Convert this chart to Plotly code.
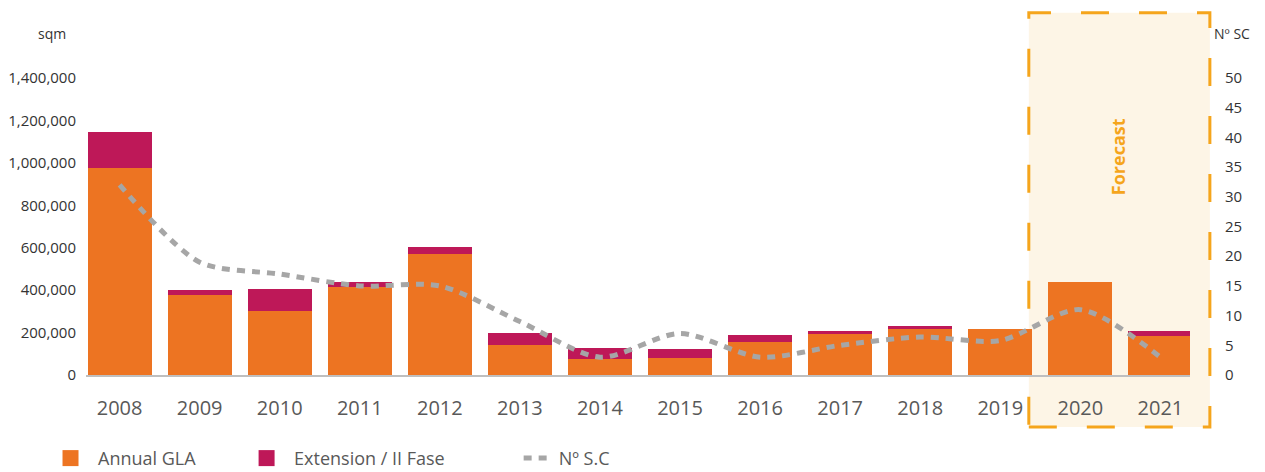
import plotly.graph_objects as go
from plotly.subplots import make_subplots

years = ["2008", "2009", "2010", "2011", "2012", "2013", "2014",
         "2015", "2016", "2017", "2018", "2019", "2020", "2021"]
annual_gla = [975000, 377000, 302000, 415000, 570000, 141000, 75000,
              80000, 156000, 193000, 217000, 217000, 438000, 184000]
extension = [170000, 23000, 103000, 23000, 33000, 57000, 52000,
             43000, 33000, 14000, 14000, 0, 0, 23000]
n_sc = [32, 19, 17, 15, 15, 9, 3, 7, 3, 5, 6.4, 5.8, 11, 3]

left_ticks = [0, 200000, 400000, 600000, 800000, 1000000, 1200000, 1400000]
right_ticks = [0, 5, 10, 15, 20, 25, 30, 35, 40, 45, 50]

ORANGE = "#ED7422"
MAGENTA = "#BE1858"
GRAY = "#A6A6A6"
FC = "#F5A51C"
FONT = "Open Sans"

fig = make_subplots(specs=[[{"secondary_y": True}]])

fig.add_trace(go.Bar(x=years, y=annual_gla, name="Annual GLA",
                     marker=dict(color=ORANGE, line=dict(width=0)),
                     showlegend=False), secondary_y=False)
fig.add_trace(go.Bar(x=years, y=extension, name="Extension / II Fase",
                     marker=dict(color=MAGENTA, line=dict(width=0)),
                     showlegend=False), secondary_y=False)
fig.add_trace(go.Scatter(x=years, y=n_sc, name="Nº S.C", mode="lines",
                         line=dict(color=GRAY, width=5, dash="8px,7px",
                                   shape="spline", smoothing=0.8),
                         legend="legend2"), secondary_y=True)
# legend-only entries with larger square symbols
fig.add_trace(go.Scatter(x=[None], y=[None], mode="markers", name="Annual GLA",
                         marker=dict(symbol="square", size=20, color=ORANGE),
                         legend="legend"), secondary_y=False)
fig.add_trace(go.Scatter(x=[None], y=[None], mode="markers", name="Extension / II Fase",
                         marker=dict(symbol="square", size=20, color=MAGENTA),
                         legend="legend3"), secondary_y=False)

leg_common = dict(orientation="h", xref="container", yref="container",
                  y=0.068, yanchor="top", xanchor="left", itemwidth=45,
                  font=dict(size=18, color="#595959"), bgcolor="rgba(0,0,0,0)")

fig.update_layout(
    width=1265, height=472,
    margin=dict(l=86, r=75, t=40, b=97, autoexpand=False),
    barmode="stack", bargap=0.2,
    plot_bgcolor="rgba(0,0,0,0)", paper_bgcolor="white",
    font=dict(family=FONT, color="#404040"),
    xaxis_domain=[0, 1],
    legend=dict(x=0.034, **leg_common),
    legend3=dict(x=0.189, **leg_common),
    legend2=dict(orientation="h", xref="container", yref="container",
                 x=0.41, y=0.068, yanchor="top", xanchor="left",
                 font=dict(size=18, color="#595959"),
                 bgcolor="rgba(0,0,0,0)"),
)

fig.update_xaxes(type="category", range=[-0.42, 13.37], automargin=False,
                 showline=True, linecolor="#BFBFBF", linewidth=2,
                 showgrid=False, ticks="", ticklabelstandoff=14,
                 tickfont=dict(size=20, color="#595959", family=FONT))

fig.update_yaxes(range=[0, 1579125], tickvals=left_ticks, automargin=False,
                 tickformat=",d", showgrid=False, zeroline=False,
                 showline=False, ticks="", ticklabelstandoff=9,
                 tickfont=dict(size=15, color="#333333", family=FONT),
                 secondary_y=False)
fig.update_yaxes(range=[0, 56.4], tickvals=right_ticks, automargin=False,
                 showgrid=False, zeroline=False, showline=False, ticks="",
                 ticklabelstandoff=34,
                 tickfont=dict(size=15, color="#333333", family=FONT),
                 secondary_y=True)

# Forecast box
fig.add_shape(type="rect", xref="paper", yref="paper",
              x0=0.854, x1=1.018, y0=-0.155, y1=1.081,
              fillcolor="#FDF5E6", line=dict(color=FC, width=3, dash="28px,30px"),
              layer="below")
fig.add_annotation(text="<b>Forecast</b>", xref="paper", yref="paper",
                   x=0.935, y=0.651, textangle=-90, showarrow=False,
                   xanchor="center", yanchor="middle",
                   font=dict(size=18, color=FC, family=FONT))

fig.add_annotation(text="sqm", xref="paper", yref="paper", x=-0.031, y=1.02,
                   xanchor="center", yanchor="middle", showarrow=False,
                   font=dict(size=14, color="#333333", family=FONT))
fig.add_annotation(text="Nº SC", xref="paper", yref="paper", x=1.038, y=1.02,
                   xanchor="center", yanchor="middle", showarrow=False,
                   font=dict(size=14, color="#333333", family=FONT))

fig.write_html("out.html", config={"displayModeBar": False},
               post_script="document.body.style.margin='0';document.body.style.overflow='hidden';")
